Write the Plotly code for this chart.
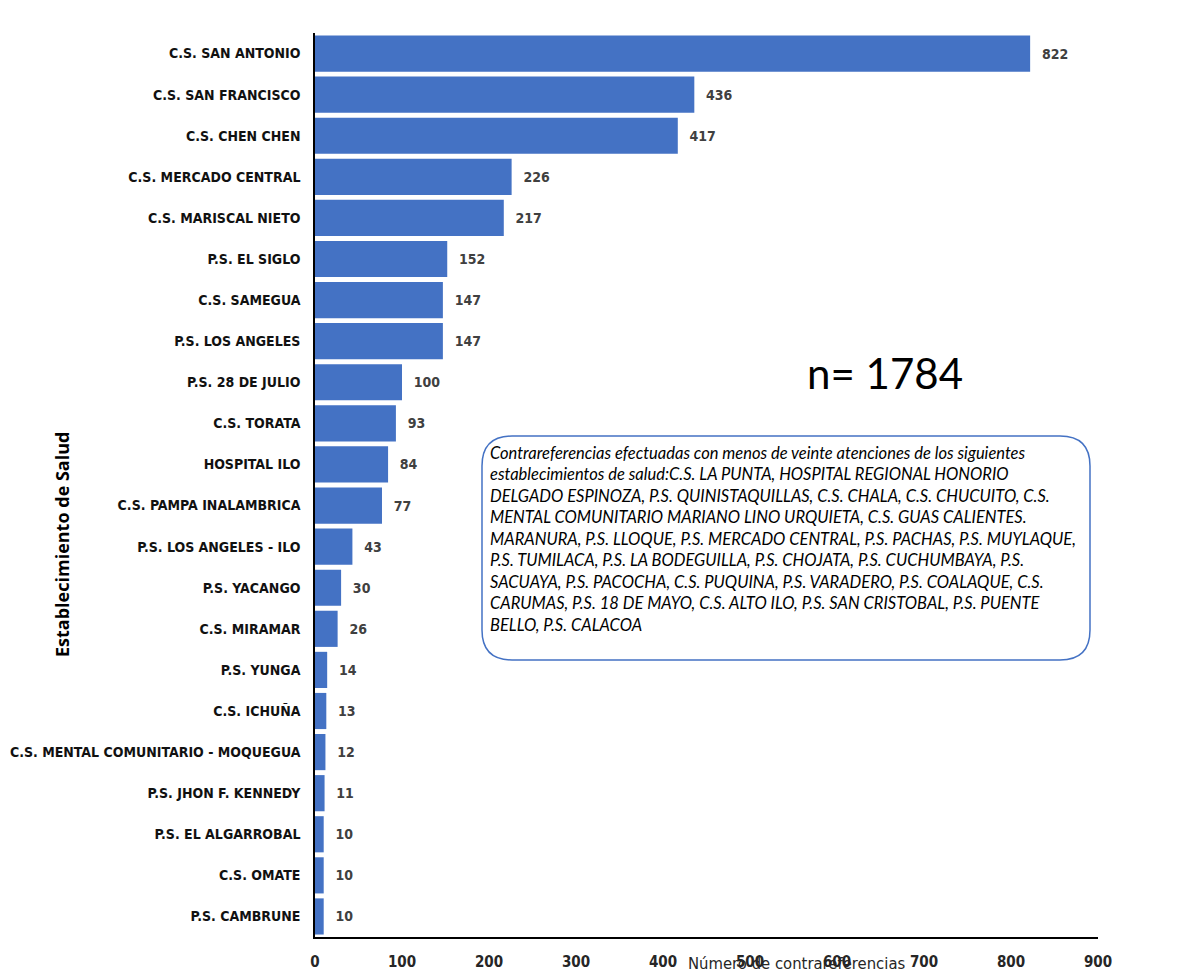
import plotly.graph_objects as go

categories = [
    "C.S. SAN ANTONIO", "C.S. SAN FRANCISCO", "C.S. CHEN CHEN", "C.S. MERCADO CENTRAL",
    "C.S. MARISCAL NIETO", "P.S. EL SIGLO", "C.S. SAMEGUA", "P.S. LOS ANGELES",
    "P.S. 28 DE JULIO", "C.S. TORATA", "HOSPITAL ILO", "C.S. PAMPA INALAMBRICA",
    "P.S. LOS ANGELES - ILO", "P.S. YACANGO", "C.S. MIRAMAR", "P.S. YUNGA",
    "C.S. ICHUÑA", "C.S. MENTAL COMUNITARIO - MOQUEGUA", "P.S. JHON F. KENNEDY",
    "P.S. EL ALGARROBAL", "C.S. OMATE", "P.S. CAMBRUNE",
]
values = [822, 436, 417, 226, 217, 152, 147, 147, 100, 93, 84, 77, 43, 30, 26, 14, 13, 12, 11, 10, 10, 10]
x_ticks = [0, 100, 200, 300, 400, 500, 600, 700, 800, 900]

box_text = (
    "Contrareferencias efectuadas con menos de veinte atenciones de los siguientes<br>"
    "establecimientos de salud:C.S. LA PUNTA, HOSPITAL REGIONAL HONORIO<br>"
    "DELGADO ESPINOZA, P.S. QUINISTAQUILLAS, C.S. CHALA, C.S. CHUCUITO, C.S.<br>"
    "MENTAL COMUNITARIO MARIANO LINO URQUIETA, C.S. GUAS CALIENTES.<br>"
    "MARANURA, P.S. LLOQUE, P.S. MERCADO CENTRAL, P.S. PACHAS, P.S. MUYLAQUE,<br>"
    "P.S. TUMILACA, P.S. LA BODEGUILLA, P.S. CHOJATA, P.S. CUCHUMBAYA, P.S.<br>"
    "SACUAYA, P.S. PACOCHA, C.S. PUQUINA, P.S. VARADERO, P.S. COALAQUE, C.S.<br>"
    "CARUMAS, P.S. 18 DE MAYO, C.S. ALTO ILO, P.S. SAN CRISTOBAL, P.S. PUENTE<br>"
    "BELLO, P.S. CALACOA"
)

# page has an 8px body margin; work in page pixels and convert
OFF = 8
W, H = 1185 - OFF, 974 - OFF
PL, PR, PT, PB = 315, 1098, 33, 937          # plot area in page pixels
L, T = PL - OFF, PT - OFF
R, B = W - (PR - OFF), H - (PB - OFF)
PW, PH = PR - PL, PB - PT

def px(x):
    return (x - PL) / PW

def py(y):
    return (PB - y) / PH

NARROW = "DejaVu Sans Condensed, Arial Narrow, sans-serif"

fig = go.Figure(go.Bar(
    y=categories, x=values, orientation="h",
    marker=dict(color="#4472C4", line=dict(width=0)),
    width=0.88,
    text=values, texttemplate="  %{text}", textposition="outside",
    textfont=dict(family=NARROW, size=14, color="#404040", weight="bold"),
    cliponaxis=False,
))

# rounded box
x0, x1, y0, y1, r = 482, 1090, 436, 660, 30
def P(x, y):
    return f"{px(x):.5f},{py(y):.5f}"
path = (f"M {P(x0 + r, y0)} L {P(x1 - r, y0)} Q {P(x1, y0)} {P(x1, y0 + r)} "
        f"L {P(x1, y1 - r)} Q {P(x1, y1)} {P(x1 - r, y1)} L {P(x0 + r, y1)} "
        f"Q {P(x0, y1)} {P(x0, y1 - r)} L {P(x0, y0 + r)} Q {P(x0, y0)} {P(x0 + r, y0)} Z")

shapes = [
    dict(type="path", xref="paper", yref="paper", path=path,
         line=dict(color="#4472C4", width=1.5), fillcolor="white", layer="below"),
]

annotations = [
    dict(xref="paper", yref="paper", x=px(488), y=py(441), xanchor="left", yanchor="top",
         text=box_text, showarrow=False, align="left",
         font=dict(family="Lato, Liberation Sans, sans-serif", size=16.5, color="#000000", style="italic")),
    dict(xref="paper", yref="paper", x=px(885), y=py(373), xanchor="center", yanchor="middle",
         text="n= 1784", showarrow=False,
         font=dict(family="Lato, Liberation Sans, sans-serif", size=42, color="#000000")),
    dict(xref="paper", yref="paper", x=px(796), y=py(963), xanchor="center", yanchor="middle",
         text="Número de contrareferencias", showarrow=False,
         font=dict(family=NARROW, size=16.5, color="#262626")),
    dict(xref="paper", yref="paper", x=px(62), y=py(545), xanchor="center", yanchor="middle",
         text="Establecimiento de Salud", showarrow=False, textangle=-90,
         font=dict(family="Open Sans, Liberation Sans, sans-serif", size=18, color="#000000", weight="bold")),
]

fig.update_layout(
    width=W, height=H,
    margin=dict(l=L, r=R, t=T, b=B, autoexpand=False),
    plot_bgcolor="white", paper_bgcolor="white",
    showlegend=False,
    shapes=shapes, annotations=annotations,
    bargap=0.12,
)
fig.update_xaxes(
    range=[0, 900], tickvals=x_ticks, showgrid=False, zeroline=False,
    showline=True, linecolor="black", linewidth=2, automargin=False,
    ticks="", ticklabelstandoff=10,
    tickfont=dict(family=NARROW, size=15, color="#262626", weight="bold"),
)
fig.update_yaxes(
    autorange="reversed", showgrid=False, zeroline=False,
    showline=True, linecolor="black", linewidth=1.5, automargin=False,
    ticks="", ticklabelstandoff=10,
    tickfont=dict(family=NARROW, size=14, color="#111111", weight="bold"),
)

fig.write_html("out.html")
